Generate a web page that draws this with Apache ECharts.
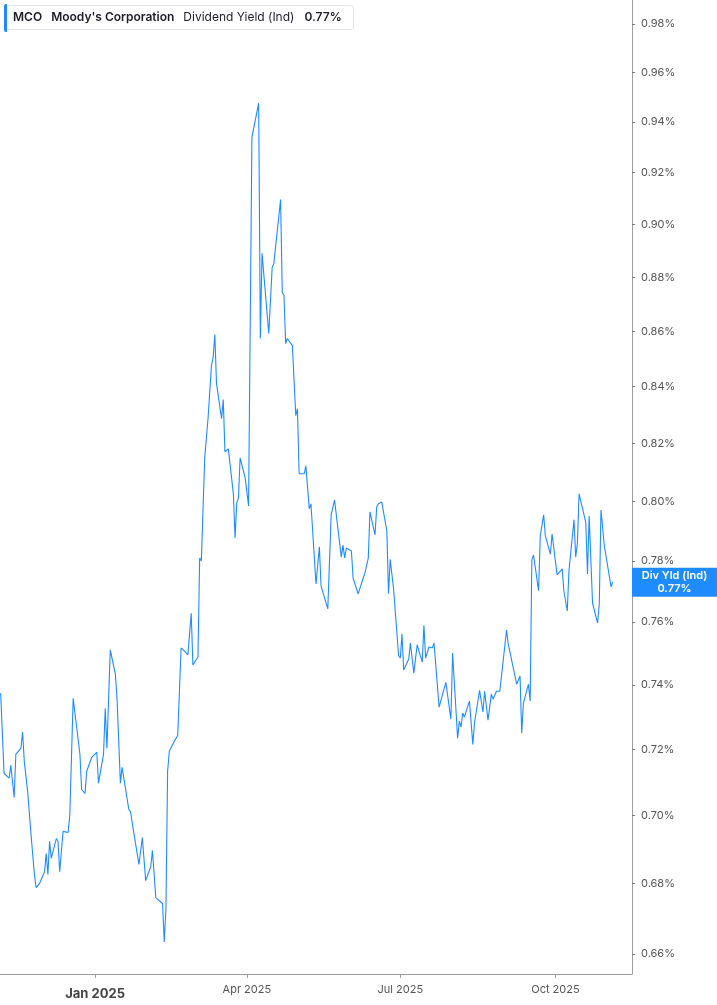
<!DOCTYPE html>
<html><head><meta charset="utf-8">
<script src="https://cdn.jsdelivr.net/npm/echarts@6.0.0/dist/echarts.min.js"></script>
<style>html,body{margin:0;padding:0;background:#fff}#c{width:717px;height:1005px}</style>
</head><body><div id="c"></div>
<script>
const dates = [
'2024-11-06','2024-11-08','2024-11-11','2024-11-12','2024-11-14','2024-11-15','2024-11-18','2024-11-19','2024-11-20','2024-11-22',
'2024-11-24','2024-11-26','2024-11-27','2024-11-29','2024-12-02','2024-12-03','2024-12-04','2024-12-05','2024-12-06','2024-12-09',
'2024-12-10','2024-12-11','2024-12-13','2024-12-16','2024-12-17','2024-12-19','2024-12-21','2024-12-23','2024-12-24','2024-12-26',
'2024-12-27','2024-12-30','2025-01-02','2025-01-03','2025-01-06','2025-01-07','2025-01-08','2025-01-10','2025-01-13','2025-01-14',
'2025-01-16','2025-01-17','2025-01-21','2025-01-22','2025-01-24','2025-01-27','2025-01-29','2025-01-31','2025-02-01','2025-02-03',
'2025-02-04','2025-02-06','2025-02-10','2025-02-11','2025-02-12','2025-02-13','2025-02-14','2025-02-17','2025-02-19','2025-02-21',
'2025-02-23','2025-02-25','2025-02-27','2025-02-28','2025-03-03','2025-03-04','2025-03-05','2025-03-07','2025-03-09','2025-03-11',
'2025-03-12','2025-03-13','2025-03-14','2025-03-17','2025-03-18','2025-03-19','2025-03-21','2025-03-24','2025-03-25','2025-03-26',
'2025-03-27','2025-03-28','2025-03-31','2025-04-02','2025-04-04','2025-04-08','2025-04-09','2025-04-10','2025-04-14','2025-04-16',
'2025-04-17','2025-04-21','2025-04-22','2025-04-23','2025-04-24','2025-04-25','2025-04-28','2025-04-30','2025-05-01','2025-05-02',
'2025-05-05','2025-05-06','2025-05-08','2025-05-09','2025-05-12','2025-05-14','2025-05-15','2025-05-19','2025-05-21','2025-05-23',
'2025-05-27','2025-05-28','2025-05-29','2025-05-30','2025-06-02','2025-06-03','2025-06-06','2025-06-09','2025-06-10','2025-06-12',
'2025-06-13','2025-06-16','2025-06-17','2025-06-18','2025-06-20','2025-06-23','2025-06-24','2025-06-25','2025-06-26','2025-06-27',
'2025-06-30','2025-07-01','2025-07-02','2025-07-03','2025-07-06','2025-07-07','2025-07-09','2025-07-11','2025-07-14','2025-07-15',
'2025-07-16','2025-07-18','2025-07-20','2025-07-21','2025-07-24','2025-07-25','2025-07-28','2025-07-31','2025-08-01','2025-08-04',
'2025-08-05','2025-08-06','2025-08-07','2025-08-08','2025-08-11','2025-08-13','2025-08-14','2025-08-17','2025-08-19','2025-08-20',
'2025-08-22','2025-08-24','2025-08-25','2025-08-27','2025-08-29','2025-08-31','2025-09-02','2025-09-03','2025-09-04','2025-09-08',
'2025-09-09','2025-09-10','2025-09-11','2025-09-12','2025-09-15','2025-09-16','2025-09-17','2025-09-18','2025-09-21','2025-09-22',
'2025-09-24','2025-09-25','2025-09-28','2025-09-29','2025-10-02','2025-10-05','2025-10-06','2025-10-08','2025-10-09','2025-10-12',
'2025-10-13','2025-10-14','2025-10-15','2025-10-17','2025-10-19','2025-10-20','2025-10-21','2025-10-23','2025-10-26','2025-10-27',
'2025-10-28','2025-10-30','2025-11-03','2025-11-04'
];
const yields = [
0.7374,0.7127,0.7112,0.7151,0.7054,0.7185,0.7203,0.7253,0.7163,0.7072,
0.6944,0.6827,0.6789,0.6800,0.6835,0.6888,0.6827,0.6924,0.6874,0.6932,
0.6924,0.6835,0.6953,0.6950,0.7003,0.7358,0.7271,0.7185,0.7078,0.7066,
0.7133,0.7175,0.7191,0.7097,0.7185,0.7327,0.7203,0.7511,0.7434,0.7358,
0.7097,0.7145,0.7018,0.7012,0.6947,0.6856,0.6935,0.6809,0.6812,0.6850,
0.6897,0.6760,0.6743,0.6634,0.6729,0.7133,0.7194,0.7225,0.7243,0.7517,
0.7507,0.7495,0.7629,0.7463,0.7488,0.7810,0.7800,0.8150,0.8290,0.8476,
0.8505,0.8588,0.8411,0.8287,0.8354,0.8171,0.8181,0.8026,0.7877,0.7995,
0.8012,0.8150,0.8081,0.7985,0.9340,0.9476,0.8574,0.8890,0.8592,0.8837,
0.8852,0.9096,0.8743,0.8732,0.8555,0.8574,0.8548,0.8297,0.8322,0.8095,
0.8095,0.8122,0.7975,0.7992,0.7724,0.7847,0.7718,0.7643,0.7955,0.8005,
0.7813,0.7853,0.7810,0.7843,0.7833,0.7744,0.7692,0.7744,0.7760,0.7810,
0.7965,0.7887,0.7981,0.7992,0.7998,0.7901,0.7692,0.7806,0.7810,0.7708,
0.7492,0.7485,0.7562,0.7447,0.7482,0.7533,0.7437,0.7527,0.7472,0.7590,
0.7485,0.7520,0.7517,0.7533,0.7330,0.7330,0.7408,0.7293,0.7501,0.7234,
0.7287,0.7268,0.7312,0.7299,0.7349,0.7215,0.7281,0.7383,0.7315,0.7380,
0.7290,0.7371,0.7355,0.7380,0.7380,0.7476,0.7574,0.7530,0.7533,0.7402,
0.7402,0.7428,0.7249,0.7343,0.7402,0.7349,0.7803,0.7820,0.7702,0.7884,
0.7955,0.7884,0.7823,0.7890,0.7754,0.7774,0.7702,0.7636,0.7767,0.7938,
0.7813,0.7857,0.8026,0.7978,0.7928,0.7757,0.7951,0.7662,0.7597,0.7659,
0.7971,0.7850,0.7715,0.7731
];
const yTickValues = [0.66,0.68,0.70,0.72,0.74,0.76,0.78,0.80,0.82,0.84,0.86,0.88,0.90,0.92,0.94,0.96,0.98];
const xTickDates = ['2025-01-01','2025-04-01','2025-07-01','2025-10-01'];
const xTickLabels = ['Jan 2025','Apr 2025','Jul 2025','Oct 2025'];
const ticker = 'MCO';
const company = "Moody's Corporation";
const metric = 'Dividend Yield (Ind)';
const seriesName = 'Div Yld (Ind)';

function toMs(s){const p=s.split('-').map(Number);return Date.UTC(p[0],p[1]-1,p[2]);}
const xTickMs = xTickDates.map(toMs);
const lastVal = yields[yields.length-1];
const pct = v => (+v).toFixed(2) + '%';
const BLUE = '#1e8cff';

const chart = echarts.init(document.getElementById('c'), null, {renderer:'canvas'});
chart.setOption({
  animation:false,
  backgroundColor:'#fff',
  textStyle:{fontFamily:'Inter, "Noto Sans", sans-serif'},
  grid:{left:0,right:85,top:0,bottom:31,containLabel:false},
  title:{
    left:4, top:4,
    text:'{b|'+ticker+'}{b|'+company+'}{n|'+metric+'}{v|'+pct(lastVal)+'}',
    backgroundColor:'#fff', borderColor:'#e6e6e6', borderWidth:1, borderRadius:3,
    padding:[6,12,6,9],
    textStyle:{
      rich:{
        b:{fontFamily:'Inter',fontSize:12,fontWeight:600,color:'#1c1c28',padding:[0,9,0,0],lineHeight:15},
        n:{fontFamily:'Inter',fontSize:12,fontWeight:400,color:'#1c1c28',padding:[0,10,0,0],lineHeight:15},
        v:{fontFamily:'Inter',fontSize:12,fontWeight:600,color:'#1c1c28',lineHeight:15}
      }
    }
  },
  graphic:[{type:'rect',left:4,top:4,z:100,shape:{width:3,height:28,r:[2,0,0,2]},style:{fill:BLUE}}],
  xAxis:{
    type:'value',
    min:Date.UTC(2024,10,5,14,24),
    max:Date.UTC(2025,10,15,9,36),
    axisLine:{show:true,lineStyle:{color:'#9e9e9e',width:1}},
    axisTick:{show:true,length:4,lineStyle:{color:'#9e9e9e'},customValues:xTickMs},
    splitLine:{show:false},
    axisLabel:{
      customValues:xTickMs,
      margin:10,
      color:'#555',
      fontSize:11,
      fontFamily:'Inter',
      formatter:function(v){
        const i = xTickMs.indexOf(+v);
        const t = i>=0 ? xTickLabels[i] : '';
        return t.indexOf('Jan')===0 ? '{y|'+t+'}' : t;
      },
      rich:{y:{fontFamily:'Inter',fontSize:13,fontWeight:700,color:'#444',padding:[4,0,0,0]}}
    }
  },
  yAxis:{
    type:'log',
    position:'right',
    min:0.6544, max:0.9901,
    axisLine:{show:true,lineStyle:{color:'#9e9e9e',width:1}},
    axisTick:{show:true,length:3,lineStyle:{color:'#777'},customValues:yTickValues},
    splitLine:{show:false},
    axisLabel:{customValues:yTickValues,margin:9,color:'#555',fontSize:11,fontFamily:'Inter',formatter:pct}
  },
  series:[{
    name:seriesName,
    type:'line',
    data:dates.map((d,i)=>[toMs(d),yields[i]]),
    showSymbol:false,
    lineStyle:{color:BLUE,width:1.1},
    itemStyle:{color:BLUE},
    markLine:{
      silent:true, symbol:['none','none'],
      lineStyle:{color:'rgba(0,0,0,0)',width:0,type:'solid'},
      data:[{yAxis:lastVal}],
      label:{
        show:true,
        position:'end', distance:0, offset:[0,-9],
        formatter:function(){return '{a|'+seriesName+'}\n{a|'+pct(lastVal)+'}';},
        backgroundColor:BLUE, padding:[2,6,2,6],
        rich:{a:{fontFamily:'Inter',fontSize:11,fontWeight:600,color:'#fff',width:73,align:'center',lineHeight:12.5}}
      }
    }
  }]
});
</script></body></html>
